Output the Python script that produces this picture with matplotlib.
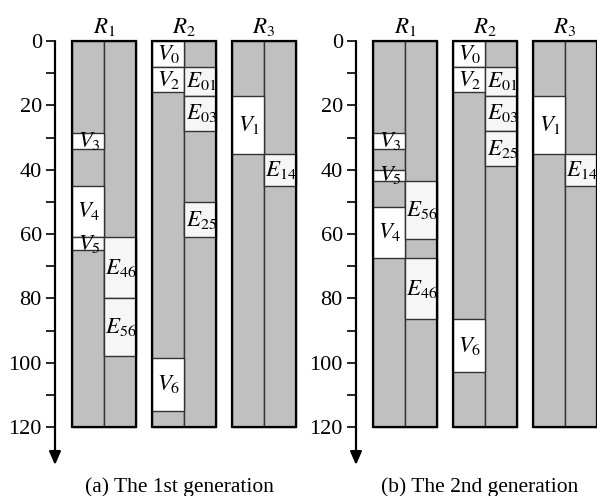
import matplotlib
matplotlib.use('agg')
import matplotlib.pyplot as plt

plt.rcParams['font.family'] = ['Liberation Serif', 'DejaVu Serif']
plt.rcParams['mathtext.fontset'] = 'stix'

# memory depth axis
y_max = 120
y_major = [0, 20, 40, 60, 80, 100, 120]
y_minor = [10, 30, 50, 70, 90, 110]
regions = ['$R_1$', '$R_2$', '$R_3$']

# lane index: 0,1 -> R1 ; 2,3 -> R2 ; 4,5 -> R3
g1_names = ['V_3', 'V_4', 'V_5', 'E_{46}', 'E_{56}', 'V_0', 'V_2', 'V_6',
            'E_{01}', 'E_{03}', 'E_{25}', 'V_1', 'E_{14}']
g1_lane = [0, 0, 0, 1, 1, 2, 2, 2, 3, 3, 3, 4, 5]
g1_start = [28.5, 45, 61, 61, 80, 0, 8, 98.5, 8, 17, 50, 17, 35]
g1_end = [33.5, 61, 65, 80, 98, 8, 16, 115, 17, 28, 61, 35, 45]

g2_names = ['V_3', 'V_5', 'V_4', 'E_{56}', 'E_{46}', 'V_0', 'V_2', 'V_6',
            'E_{01}', 'E_{03}', 'E_{25}', 'V_1', 'E_{14}']
g2_lane = [0, 0, 0, 1, 1, 2, 2, 2, 3, 3, 3, 4, 5]
g2_start = [28.5, 40, 51.5, 43.5, 67.5, 0, 8, 86.5, 8, 17, 28, 17, 35]
g2_end = [33.5, 43.5, 67.5, 61.5, 86.5, 8, 16, 103, 17, 28, 39, 35, 45]

captions = ['(a) The 1st generation', '(b) The 2nd generation']

W, H = 597, 496
fig = plt.figure(figsize=(W / 100, H / 100), dpi=100)

lane_w = 32
gap = 16
offset = 17


def lane_x(i):
    return offset + (i // 2) * (2 * lane_w + gap) + (i % 2) * lane_w


def panel(left_px, names, lanes, starts, ends, caption):
    ax = fig.add_axes([left_px / W, (H - 427) / H, 245 / W, 386 / H])
    ax.set_xlim(0, 245)
    ax.set_ylim(y_max, 0)
    for s in ax.spines.values():
        s.set_visible(False)
    ax.set_xticks([])
    ax.set_yticks(y_major)
    ax.set_yticks(y_minor, minor=True)
    ax.tick_params(axis='y', which='both', length=6.5, width=1.2, labelsize=16, pad=3)

    # axis line with arrow
    ax.annotate('', xy=(0, 131.8), xytext=(0, 0), annotation_clip=False,
                arrowprops=dict(arrowstyle='-|>,head_length=0.8,head_width=0.35',
                                lw=1.6, color='black', shrinkA=0, shrinkB=0))

    # gray background lanes
    xs = [lane_x(i) for i in range(6)]
    ax.bar(xs, [y_max] * 6, width=lane_w, bottom=0, align='edge',
           color='#c0c0c0', edgecolor='#333333', linewidth=1.0, clip_on=False)

    # vertex / edge segments
    for n, ln, a, b in zip(names, lanes, starts, ends):
        fc = 'white' if n.startswith('V') else '#f6f6f6'
        ax.bar(lane_x(ln), b - a, width=lane_w, bottom=a, align='edge',
               color=fc, edgecolor='#333333', linewidth=1.0, clip_on=False)
        ax.text(lane_x(ln) + lane_w / 2 + 1, (a + b) / 2, '$' + n + '$',
                ha='center', va='center', fontsize=16.5, clip_on=False)

    # region frames and titles
    for r, lab in enumerate(regions):
        x0 = lane_x(2 * r)
        ax.bar(x0, y_max, width=2 * lane_w, bottom=0, align='edge',
               fill=False, edgecolor='black', linewidth=1.6, clip_on=False)
        ax.text(x0 + lane_w, -4.5, lab, ha='center', va='center',
                fontsize=16.5, clip_on=False)

    ax.text(124, 138.8, caption, ha='center', va='center', fontsize=15.5,
            clip_on=False)
    return ax


panel(55, g1_names, g1_lane, g1_start, g1_end, captions[0])
panel(356, g2_names, g2_lane, g2_start, g2_end, captions[1])

fig.savefig('out.png', dpi=100)
